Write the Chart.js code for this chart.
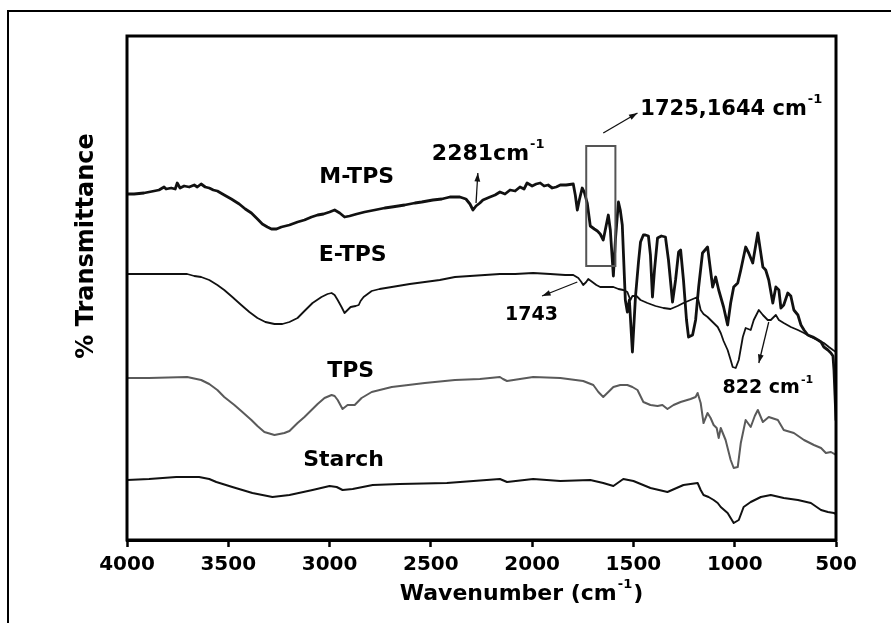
<!DOCTYPE html>
<html><head><meta charset="utf-8">
<script src="https://cdn.jsdelivr.net/npm/chart.js@4/dist/chart.umd.min.js"></script>
<style>html,body{margin:0;padding:0;background:#fff;}#wrap{width:891px;height:623px;}</style>
</head><body>
<div id="wrap"><canvas id="c" width="891" height="623"></canvas></div>
<script>
// ---- data (wavenumber in cm-1, transmittance in arbitrary offset units) ----
const seriesNames = ['M-TPS', 'E-TPS', 'TPS', 'Starch'];
const xTickValues = [4000, 3500, 3000, 2500, 2000, 1500, 1000, 500];

const mtpsWavenumber = [4000,3965,3916,3891,3866,3842,3817,3807,3782,3762,3752,3738,3718,3693,3668,3653,3634,3614,3594,3574,3554,3520,3485,3446,3416,3386,3356,3332,3307,3287,3262,3238,3198,3158,3124,3089,3059,3030,3000,2975,2950,2926,2901,2866,2827,2777,2728,2693,2629,2579,2545,2490,2446,2406,2357,2327,2307,2292,2277,2258,2243,2208,2183,2159,2134,2109,2084,2060,2040,2025,2000,1980,1960,1941,1921,1901,1881,1861,1832,1797,1787,1777,1767,1753,1743,1728,1713,1693,1678,1664,1649,1639,1624,1614,1599,1589,1574,1565,1555,1540,1530,1520,1505,1490,1475,1465,1451,1441,1426,1416,1406,1396,1381,1362,1342,1327,1307,1292,1277,1267,1253,1238,1228,1208,1193,1178,1159,1134,1109,1094,1079,1055,1035,1020,1005,985,970,946,931,911,886,861,847,832,812,797,782,772,758,738,723,708,688,673,658,639,614,589,574,560,540,525,515,510,505,500];
const mtpsValue = [346,346,347,348,349,350,353,351,352,351,357,352,354,353,355,353,356,353,352,350,349,345,341,336,331,327,321,316,313,311,311,313,315,318,320,323,325,326,328,330,327,323,324,326,328,330,332,333,335,337,338,340,341,343,343,341,336,330,334,337,340,343,345,348,346,350,349,353,351,357,354,356,357,354,355,352,353,355,355,356,345,330,340,352,348,337,314,311,309,306,300,310,325,310,264,300,338,330,315,240,228,240,188,243,278,298,305,305,304,285,243,270,302,304,303,280,238,260,288,290,260,220,203,205,220,253,287,293,253,263,250,233,215,237,253,257,270,293,287,277,307,273,270,260,237,253,250,232,235,247,244,230,225,215,210,205,203,200,198,193,190,187,184,170,145,120];

const etpsWavenumber = [4000,3891,3792,3703,3668,3634,3594,3554,3520,3480,3436,3396,3356,3317,3272,3233,3198,3158,3124,3084,3040,3010,2990,2975,2960,2941,2926,2911,2896,2871,2856,2847,2832,2812,2792,2753,2693,2604,2530,2456,2381,2307,2233,2159,2084,1995,1911,1837,1797,1772,1757,1748,1733,1723,1703,1683,1664,1629,1599,1574,1550,1530,1515,1505,1485,1465,1431,1391,1352,1317,1282,1253,1218,1183,1168,1154,1134,1119,1099,1084,1069,1055,1035,1020,1010,995,980,960,946,921,906,881,861,837,822,797,782,758,723,688,658,624,589,560,535,515,500];
const etpsValue = [266,266,266,266,264,263,260,255,250,243,235,228,222,218,216,216,218,222,229,237,243,246,247,245,240,233,227,230,233,234,235,239,243,246,249,251,253,256,258,260,263,264,265,266,266,267,266,265,265,262,258,255,258,261,258,255,253,253,253,251,250,248,240,244,244,240,237,234,232,231,234,237,240,243,230,226,223,220,216,213,207,199,190,180,173,172,180,203,212,210,220,230,225,220,220,225,220,217,213,210,207,203,200,197,193,190,188];

const tpsWavenumber = [4000,3891,3703,3634,3594,3554,3520,3470,3436,3386,3356,3322,3272,3223,3198,3158,3124,3089,3059,3025,2990,2975,2960,2936,2911,2876,2842,2792,2693,2530,2381,2258,2159,2144,2124,2060,1995,1861,1748,1698,1673,1649,1624,1599,1565,1530,1505,1480,1451,1416,1381,1357,1332,1302,1267,1218,1193,1183,1168,1154,1134,1119,1104,1089,1079,1069,1045,1020,1005,985,970,946,921,901,886,861,832,787,758,708,658,609,574,550,525,500];
const tpsValue = [162,162,163,160,156,150,143,135,129,120,114,108,105,107,109,117,123,130,136,142,145,144,140,131,135,135,142,148,153,157,160,161,163,161,159,161,163,162,159,155,148,143,148,153,155,155,153,150,138,135,134,135,131,135,138,141,143,147,137,117,127,122,115,112,102,112,100,80,72,73,97,120,113,124,130,118,123,120,110,107,100,95,92,87,88,85];

const starchWavenumber = [4000,3891,3757,3644,3594,3559,3480,3381,3282,3198,3084,3000,2965,2936,2886,2787,2654,2421,2159,2124,1995,1861,1713,1649,1599,1550,1500,1416,1332,1253,1183,1168,1154,1129,1104,1084,1069,1035,1005,980,956,921,871,822,758,688,624,574,540,510,500];
const starchValue = [60,61,63,63,61,58,53,47,43,45,50,54,53,50,51,55,56,57,61,58,61,59,60,57,54,61,59,52,48,55,57,50,45,43,40,37,33,27,17,20,33,38,43,45,42,40,37,30,28,27,26];

// ---- annotation texts ----
const peakTexts = ['2281cm', '1725,1644 cm', '1743', '822 cm'];
const supText = '-1';
const xTitle = 'Wavenumber (cm';
const yTitle = '% Transmittance';

// ---- presentation ----
const FONT = '"DejaVu Sans", "Liberation Sans", Arial, sans-serif';
const seriesStyle = [
  {color:'#111', width:2.8},
  {color:'#111', width:1.8},
  {color:'#5a5a5a', width:2.0},
  {color:'#111', width:2.0}
];
// anchors in data coordinates (wavenumber, value)
const seriesLabelPos = [[2866,357],[2886,279],[2896,163],[2931,74]];
const peakTextPos = [
  {wn:2495, v:380, size:22},
  {wn:1466, v:425, size:21},
  {wn:2134, v:220, size:19},
  {wn:1060, v:147, size:19}
];
const peakHasSup = [true, true, false, true];
const arrowPos = [
  [2277,337,2268,367],
  [1649,407,1480,427],
  [1777,258,1951,244],
  [832,218,881,177]
];
const boxPos = [1733,394,1589,274];

function pts(xs, ys){ return xs.map((x,i)=>({x:x, y:ys[i]})); }
const seriesData = [pts(mtpsWavenumber,mtpsValue), pts(etpsWavenumber,etpsValue), pts(tpsWavenumber,tpsValue), pts(starchWavenumber,starchValue)];

function drawSup(ctx, main, sup, tail, x, y, size, align){
  ctx.textBaseline = 'alphabetic'; ctx.textAlign = 'left';
  const ss = Math.round(size*0.6);
  ctx.font = `bold ${size}px ${FONT}`; const w1 = ctx.measureText(main).width;
  ctx.font = `bold ${ss}px ${FONT}`; const w2 = sup ? ctx.measureText(sup).width : 0;
  ctx.font = `bold ${size}px ${FONT}`; const w3 = tail ? ctx.measureText(tail).width : 0;
  const total = w1 + (sup ? w2 + 1 : 0) + (tail ? w3 + 1 : 0);
  let x0 = align === 'center' ? x - total/2 : x;
  ctx.fillText(main, x0, y);
  if (sup){ ctx.font = `bold ${ss}px ${FONT}`; ctx.fillText(sup, x0 + w1 + 1, y - size*0.55); }
  if (tail){ ctx.font = `bold ${size}px ${FONT}`; ctx.fillText(tail, x0 + w1 + w2 + 2, y); }
}
function arrow(ctx, x1,y1,x2,y2){
  ctx.lineWidth = 1.3;
  ctx.beginPath(); ctx.moveTo(x1,y1); ctx.lineTo(x2,y2); ctx.stroke();
  const a = Math.atan2(y2-y1, x2-x1), h = 9;
  ctx.beginPath(); ctx.moveTo(x2,y2);
  ctx.lineTo(x2 - h*Math.cos(a-0.33), y2 - h*Math.sin(a-0.33));
  ctx.lineTo(x2 - h*Math.cos(a+0.33), y2 - h*Math.sin(a+0.33));
  ctx.closePath(); ctx.fill();
}

const framePlugin = {
  id:'frame',
  beforeDraw(chart){
    const ctx = chart.ctx; ctx.save();
    ctx.fillStyle = '#fff'; ctx.fillRect(0,0,chart.width,chart.height);
    ctx.strokeStyle = '#000'; ctx.lineWidth = 2;
    ctx.beginPath(); ctx.moveTo(8, chart.height+5); ctx.lineTo(8, 11); ctx.lineTo(chart.width+5, 11); ctx.stroke();
    ctx.restore();
  },
  afterDatasetsDraw(chart){
    const ctx = chart.ctx, a = chart.chartArea; ctx.save();
    ctx.strokeStyle = '#000'; ctx.lineWidth = 3;
    ctx.strokeRect(a.left, a.top, a.right - a.left, a.bottom - a.top);
    ctx.restore();
  },
  afterDraw(chart){
    const ctx = chart.ctx, xs = chart.scales.x, ys = chart.scales.y, a = chart.chartArea;
    const X = v => xs.getPixelForValue(v), Y = v => ys.getPixelForValue(v);
    ctx.save(); ctx.fillStyle = '#000'; ctx.strokeStyle = '#111';
    seriesNames.forEach((n,i)=>{
      ctx.font = `bold 22px ${FONT}`; ctx.textAlign='center'; ctx.textBaseline='alphabetic';
      ctx.fillText(n, X(seriesLabelPos[i][0]), Y(seriesLabelPos[i][1]));
    });
    peakTexts.forEach((t,i)=>{
      const p = peakTextPos[i];
      drawSup(ctx, t, peakHasSup[i] ? supText : null, null, X(p.wn), Y(p.v), p.size, 'left');
    });
    ctx.fillStyle = '#111';
    arrowPos.forEach(p => arrow(ctx, X(p[0]), Y(p[1]), X(p[2]), Y(p[3])));
    ctx.strokeStyle = '#555'; ctx.lineWidth = 2;
    ctx.strokeRect(X(boxPos[0]), Y(boxPos[1]), X(boxPos[2]) - X(boxPos[0]), Y(boxPos[3]) - Y(boxPos[1]));
    ctx.fillStyle = '#000';
    drawSup(ctx, xTitle, supText, ')', a.left + (a.right - a.left)/2 + 40, 600, 22, 'center');
    ctx.translate(93, 246); ctx.rotate(-Math.PI/2);
    ctx.font = `bold 24px ${FONT}`; ctx.textAlign='center'; ctx.textBaseline='alphabetic';
    ctx.fillText(yTitle, 0, 0);
    ctx.restore();
  }
};

new Chart(document.getElementById('c'), {
  type:'line',
  data:{ datasets: seriesNames.map((n,i)=>({
    label:n, data:seriesData[i], borderColor:seriesStyle[i].color, borderWidth:seriesStyle[i].width,
    pointRadius:0, tension:0, fill:false, borderJoinStyle:'round', borderCapStyle:'round'
  }))},
  options:{
    responsive:false, animation:false, devicePixelRatio:1,
    layout:{padding:{left:127, right:55, top:36, bottom:40}},
    plugins:{legend:{display:false}, tooltip:{enabled:false}},
    scales:{
      x:{type:'linear', reverse:true, min:500, max:4000,
        afterBuildTicks: ax => { ax.ticks = xTickValues.map(v=>({value:v})); },
        ticks:{font:{family:FONT, weight:'bold', size:20}, color:'#000', padding:6, maxRotation:0, autoSkip:false,
          callback: v => String(v)},
        grid:{drawOnChartArea:false, drawTicks:true, tickLength:7, tickWidth:2.5, tickColor:'#000', color:'#000'},
        border:{display:true, color:'#000', width:3}},
      y:{display:false, min:0, max:504}
    }
  },
  plugins:[framePlugin]
});
</script>
</body></html>
